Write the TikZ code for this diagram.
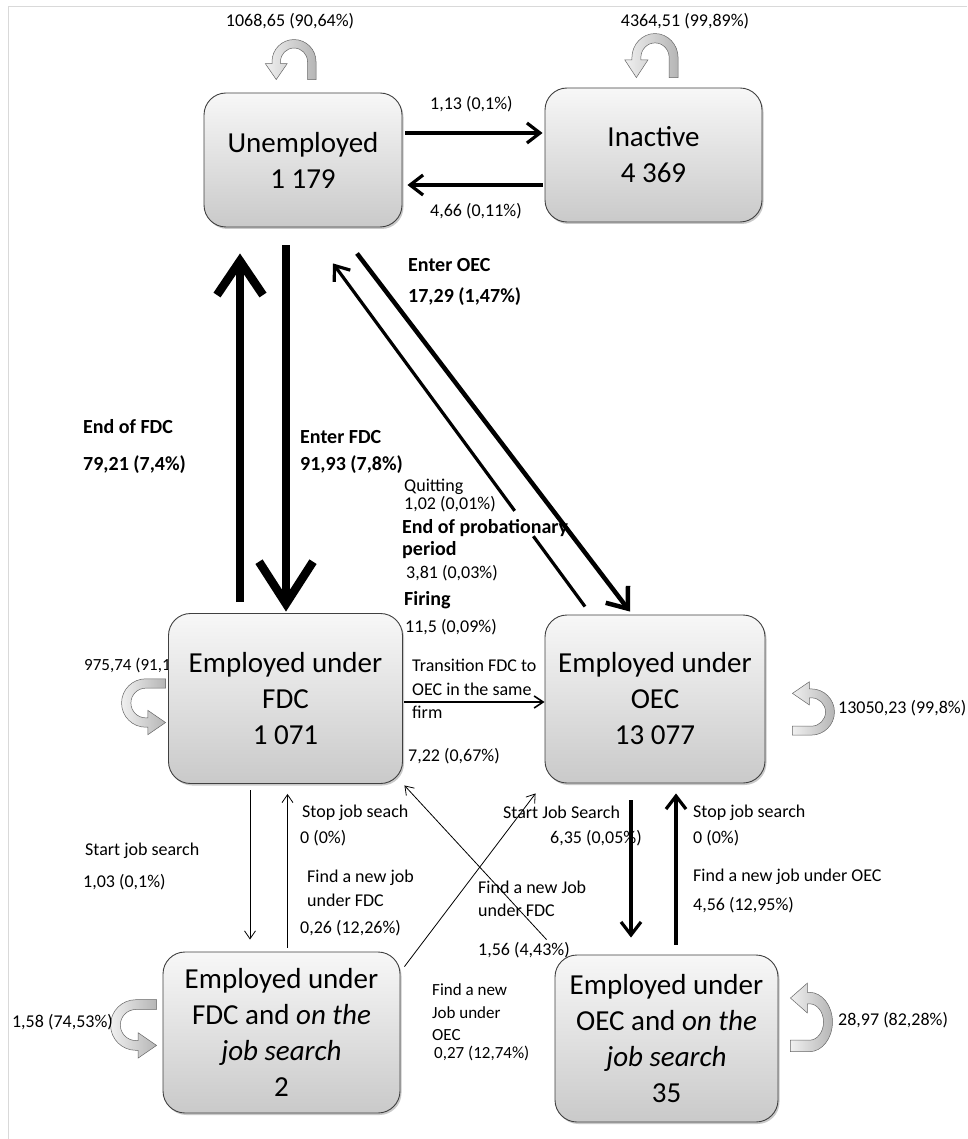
\documentclass[tikz,border=0pt]{standalone}
\usepackage{fontspec}
\setmainfont{Carlito}
\usetikzlibrary{arrows.meta,calc,shadows}
\begin{document}
\begin{tikzpicture}[x=1pt,y=-1pt,
  state/.style={draw=black!75, line width=0.9pt, rounded corners=22pt,
    top color=gray!6, bottom color=gray!42, align=center, inner sep=0pt,
    font=\fontsize{29}{36}\selectfont,
    drop shadow={shadow xshift=1.5pt, shadow yshift=-2pt, opacity=0.35, fill=black!60}},
  lab/.style={anchor=west, inner sep=0pt, font=\fontsize{18}{20}\selectfont},
  slab/.style={anchor=west, inner sep=0pt, font=\fontsize{17}{18}\selectfont},
  blab/.style={anchor=west, inner sep=0pt, font=\fontsize{20}{22}\selectfont\bfseries},
  loopstyle/.style={draw=black!60, line width=0.5pt, left color=gray!12, right color=gray!58},
  hugearrow/.style={line width=8.5pt, -{Straight Barb[length=34pt,width=46pt]}},
  hugearrowB/.style={line width=8.5pt, -{Straight Barb[length=42pt,width=54pt]}},
  bigarrow/.style={line width=4.5pt, -{Straight Barb[length=18pt,width=28pt]}},
  medarrow/.style={line width=3.2pt, -{Straight Barb[length=13pt,width=20pt]}},
  midarrow/.style={line width=1.6pt, -{Straight Barb[length=9pt,width=12pt]}},
  thinarrow/.style={line width=0.8pt, -{Straight Barb[length=8pt,width=11pt]}},
  selfloop/.pic={
    \path[loopstyle] (13.5,0) -- (22,0) -- (22,-18)
      arc[start angle=0, end angle=-180, radius=22] -- (-22,-16) -- (-28.75,-16)
      -- (-17.75,0) -- (-6.75,-16) -- (-13.5,-16) -- (-13.5,-18)
      arc[start angle=-180, end angle=0, radius=13.5] -- cycle;
  }
]
\useasboundingbox (0,0) rectangle (967,1139);
\fill[white] (0,0) rectangle (967,1139);
\draw[gray!30, line width=1pt] (967,7) -- (8,7) -- (8,1139);

% label hidden partly behind the FDC box
\node[slab] (l97574) at (84,665) {975,74 (91,1\%)};

% states
\node[state, minimum width=198pt, minimum height=134pt] (Unemp) at (303,160) {Unemployed\\1 179};
\node[state, minimum width=217pt, minimum height=134pt] (Inact) at (653.5,155) {Inactive\\4 369};
\node[state, minimum width=234pt, minimum height=170pt] (FDC) at (285.5,698.5) {Employed under\\FDC\\1 071};
\node[state, minimum width=220pt, minimum height=168pt] (OEC) at (655,699) {Employed under\\OEC\\13 077};
\node[state, minimum width=237pt, minimum height=161pt] (FDCJS) at (281.5,1032.5) {Employed under\\FDC and \textit{on the}\\\textit{job search}\\2};
\node[state, minimum width=223pt, minimum height=167pt] (OECJS) at (666.5,1038.5) {Employed under\\OEC and \textit{on the}\\\textit{job search}\\35};

% self loops
\pic at ($(Unemp.north)+(-9,-13)$) {selfloop};
\pic[xscale=1.05, yscale=1.1] at ($(Inact.north)+(1.5,-10)$) {selfloop};
\pic[rotate=90, scale=1.1] at ($(FDC.west)+(-2.5,4.5)$) {selfloop};
\pic[rotate=-90, scale=1.05] at ($(OEC.east)+(27,13)$) {selfloop};
\pic[rotate=90, scale=1.15] at ($(FDCJS.west)+(-6,-7.5)$) {selfloop};
\pic[rotate=-90, xscale=1.35, yscale=1.05] at ($(OECJS.east)+(12,-16.5)$) {selfloop};

% connectors
\draw[medarrow] ($(Unemp.east)+(3,-27)$) -- ($(Inact.west)+(-2,-22)$);
\draw[medarrow] ($(Inact.west)+(-2,30)$) -- ($(Unemp.east)+(5,25)$);
\draw[hugearrow] ($(FDC.north)+(-45.5,-11)$) -- ($(Unemp.south)+(-63,26)$);
\draw[hugearrowB] ($(Unemp.south)+(-17,18)$) -- ($(FDC.north)+(0.5,-1.5)$);
\draw[bigarrow] ($(Unemp.south)+(54,26)$) -- ($(OEC.north)+(-25,-3)$);
\coordinate (rs) at ($(OEC.north)+(-70,-8)$);
\coordinate (re) at ($(Unemp.south)+(30,36)$);
\draw[line width=3.2pt] (rs) -- ($(rs)!0.205!(re)$);
\draw[medarrow] ($(rs)!0.279!(re)$) -- (re);
\draw[midarrow] ($(FDC.east)+(1.5,3.5)$) -- ($(OEC.west)+(0,3)$);
\draw[thinarrow] ($(FDC.south)+(-35.5,6.5)$) -- ($(FDCJS.north)+(-31.5,-12)$);
\draw[thinarrow] ($(FDCJS.north)+(6,-4)$) -- ($(FDC.south)+(2,10)$);
\draw[thinarrow] ($(OECJS.north)+(-120,-15)$) -- ($(FDC.south east)+(1.5,1.5)$);
\draw[thinarrow] ($(FDCJS.north east)+(4,15)$) -- ($(OEC.south west)+(-9,10)$);
\draw[medarrow] ($(OEC.south)+(-24,17)$) -- ($(OECJS.north)+(-35.5,-17)$);
\draw[medarrow] ($(OECJS.north)+(9.5,-10)$) -- ($(OEC.south)+(21,10)$);

% labels
\node[lab, anchor=center] (t1) at (290,21) {1068,65 (90,64\%)};
\node[lab, anchor=center] (t2) at (685,21) {4364,51 (99,89\%)};
\node[lab] (t3) at (430,104) {1,13 (0,1\%)};
\node[lab] (t4) at (430,211) {4,66 (0,11\%)};
\node[blab] (t5) at (408,265) {Enter OEC};
\node[blab] (t6) at (408,297) {17,29 (1,47\%)};
\node[blab] (t7) at (83,427) {End of FDC};
\node[blab] (t8) at (83,465) {79,21 (7,4\%)};
\node[blab] (t9) at (300,437) {Enter FDC};
\node[blab] (t10) at (300,465) {91,93 (7,8\%)};
\node[lab] (t11) at (404,487) {Quitting};
\node[lab] (t12) at (404,504) {1,02 (0,01\%)};
\node[blab] (t13) at (402,528) {End of probationary};
\node[blab] (t14) at (402,550) {period};
\node[lab] (t15) at (406,573) {3,81 (0,03\%)};
\node[blab] (t16) at (404,600) {Firing};
\node[lab] (t17) at (405,627) {11,5 (0,09\%)};
\node[lab] (t18) at (412,665) {Transition FDC to};
\node[lab] (t19) at (412,689) {OEC in the same};
\node[lab] (t20) at (412,712) {firm};
\node[lab] (t21) at (408,756) {7,22 (0,67\%)};
\node[lab] (t22) at (838,708) {13050,23 (99,8\%)};
\node[lab] (t23) at (85,851) {Start job search};
\node[lab] (t24) at (83,882) {1,03 (0,1\%)};
\node[lab] (t25) at (302,813) {Stop job seach};
\node[lab] (t26) at (300,838) {0 (0\%)};
\node[lab] (t27) at (307,878) {Find a new job};
\node[lab] (t28) at (307,900) {under FDC};
\node[lab] (t29) at (300,928) {0,26 (12,26\%)};
\node[lab] (t30) at (503,812) {Start Job Search};
\node[lab] (t31) at (550,838) {6,35 (0,05\%)};
\node[lab] (t32) at (478,887) {Find a new Job};
\node[lab] (t33) at (478,910) {under FDC};
\node[lab] (t34) at (478,950) {1,56 (4,43\%)};
\node[lab] (t35) at (693,813) {Stop job search};
\node[lab] (t36) at (693,838) {0 (0\%)};
\node[lab] (t37) at (693,877) {Find a new job under OEC};
\node[lab] (t38) at (693,905) {4,56 (12,95\%)};
\node[slab] (t39) at (432,990) {Find a new};
\node[slab] (t40) at (432,1013) {Job under};
\node[slab] (t41) at (432,1035) {OEC};
\node[slab] (t42) at (434,1053) {0,27 (12,74\%)};
\node[lab, anchor=east] (t43) at (113,1022) {1,58 (74,53\%)};
\node[lab] (t44) at (838,1020) {28,97 (82,28\%)};
\end{tikzpicture}
\end{document}
